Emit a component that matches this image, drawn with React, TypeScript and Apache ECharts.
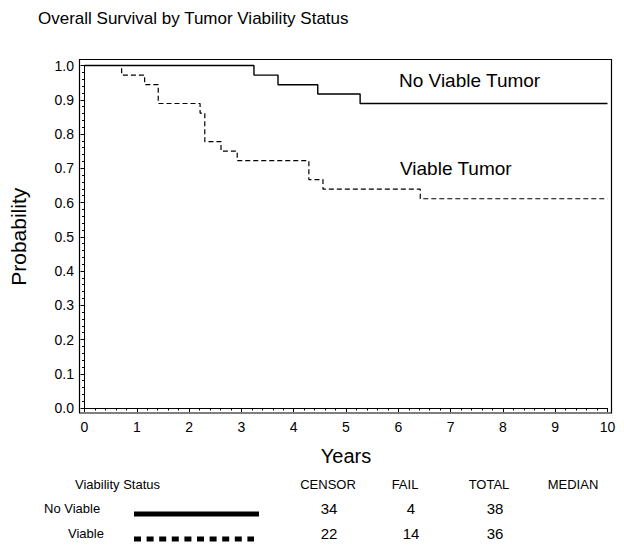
import React, { useEffect, useRef } from "react";
import * as echarts from "echarts";

// Kaplan-Meier step data (years, survival probability)
const noViableYears = [0, 3.24, 3.7, 4.46, 5.27, 10];
const noViableSurv = [1.0, 0.972, 0.944, 0.917, 0.889, 0.889];
const viableYears = [0, 0.71, 1.15, 1.41, 2.21, 2.3, 2.61, 2.92, 4.29, 4.56, 6.42, 10];
const viableSurv = [1.0, 0.972, 0.944, 0.889, 0.861, 0.778, 0.75, 0.722, 0.667, 0.639, 0.611, 0.611];

// Summary table
const tableHeaders = ["CENSOR", "FAIL", "TOTAL", "MEDIAN"];
const groupNames = ["No Viable", "Viable"];
const censorCounts = [34, 22];
const failCounts = [4, 14];
const totalCounts = [38, 36];

const FONT = "'Liberation Sans', Arial, Helvetica, sans-serif";

export default function App() {
  const ref = useRef<HTMLDivElement>(null);
  useEffect(() => {
    if (!ref.current) return;
    const chart = echarts.init(ref.current, undefined, { renderer: "svg" });

    const headerX = [328, 405, 489, 573];
    const valueX = [329, 411, 495];
    const rowY = [508, 533];
    const rowLabelX = [44, 68];
    const graphics: any[] = [
      {
        type: "rect",
        shape: { x: 79.5, y: 59.5, width: 532, height: 353.5 },
        style: { fill: "none", stroke: "#000", lineWidth: 1.2 },
        silent: true,
      },
      {
        type: "text",
        x: 38,
        y: 18,
        style: { text: "Overall Survival by Tumor Viability Status", fontSize: 17, fontFamily: FONT, fill: "#000", verticalAlign: "middle", align: "left" },
      },
      {
        type: "text",
        x: 399,
        y: 80,
        style: { text: "No Viable Tumor", fontSize: 19, fontFamily: FONT, fill: "#000", verticalAlign: "middle", align: "left" },
      },
      {
        type: "text",
        x: 400,
        y: 168,
        style: { text: "Viable Tumor", fontSize: 19, fontFamily: FONT, fill: "#000", verticalAlign: "middle", align: "left" },
      },
      {
        type: "text",
        x: 75,
        y: 484,
        style: { text: "Viability Status", fontSize: 13, fontFamily: FONT, fill: "#000", verticalAlign: "middle", align: "left" },
      },
    ];
    tableHeaders.forEach((h, i) => {
      graphics.push({
        type: "text",
        x: headerX[i],
        y: 484,
        style: { text: h, fontSize: 13, fontFamily: FONT, fill: "#000", verticalAlign: "middle", align: "center" },
      });
    });
    groupNames.forEach((g, r) => {
      graphics.push({
        type: "text",
        x: rowLabelX[r],
        y: rowY[r],
        style: { text: g, fontSize: 13, fontFamily: FONT, fill: "#000", verticalAlign: "middle", align: "left" },
      });
      [censorCounts[r], failCounts[r], totalCounts[r]].forEach((v, c) => {
        graphics.push({
          type: "text",
          x: valueX[c],
          y: rowY[r],
          style: { text: String(v), fontSize: 15, fontFamily: FONT, fill: "#000", verticalAlign: "middle", align: "center" },
        });
      });
    });
    graphics.push({
      type: "line",
      shape: { x1: 134, y1: 514, x2: 259, y2: 514 },
      style: { stroke: "#000", lineWidth: 5 },
    });
    graphics.push({
      type: "line",
      shape: { x1: 134, y1: 539, x2: 254, y2: 539 },
      style: { stroke: "#000", lineWidth: 5, lineDash: [7, 5.6] },
    });

    chart.setOption({
      animation: false,
      backgroundColor: "#fff",
      textStyle: { fontFamily: FONT },
      grid: { left: 82.5, right: 16.5, top: 65.5, bottom: 143, containLabel: false },
      xAxis: {
        type: "value",
        min: 0,
        max: 10,
        interval: 1,
        offset: 5,
        axisLine: { show: true, lineStyle: { color: "#000", width: 1 } },
        axisTick: { show: true, length: 4, lineStyle: { color: "#000" } },
        minorTick: { show: true, splitNumber: 5, length: 2.5, lineStyle: { color: "#000" } },
        splitLine: { show: false },
        axisLabel: { fontSize: 14, color: "#000", margin: 7, fontFamily: FONT },
        name: "Years",
        nameLocation: "middle",
        nameGap: 33,
        nameTextStyle: { fontSize: 20, color: "#000", fontFamily: FONT },
      },
      yAxis: {
        type: "value",
        min: 0,
        max: 1,
        interval: 0.1,
        offset: 3.5,
        axisLine: { show: true, lineStyle: { color: "#000", width: 1 } },
        axisTick: { show: true, length: 4, lineStyle: { color: "#000" } },
        minorTick: { show: true, splitNumber: 5, length: 2.5, lineStyle: { color: "#000" } },
        splitLine: { show: false },
        axisLabel: {
          fontSize: 14,
          color: "#000",
          margin: 7,
          fontFamily: FONT,
          formatter: (v: number) => v.toFixed(1),
        },
        name: "Probability",
        nameLocation: "middle",
        nameGap: 52,
        nameTextStyle: { fontSize: 21, color: "#000", fontFamily: FONT },
      },
      series: [
        {
          name: "No Viable Tumor",
          type: "line",
          step: "end",
          symbol: "none",
          clip: false,
          data: noViableYears.map((t, i) => [t, noViableSurv[i]]),
          lineStyle: { color: "#000", width: 1.4, type: "solid" },
        },
        {
          name: "Viable Tumor",
          type: "line",
          step: "end",
          symbol: "none",
          clip: false,
          data: viableYears.map((t, i) => [t, viableSurv[i]]),
          lineStyle: { color: "#000", width: 1.2, type: [5, 3] },
        },
      ],
      graphic: graphics,
    });
    return () => chart.dispose();
  }, []);
  return (
    <div
      ref={ref}
      style={{ position: "fixed", left: 0, top: 0, width: 624, height: 551, background: "#fff" }}
    />
  );
}
